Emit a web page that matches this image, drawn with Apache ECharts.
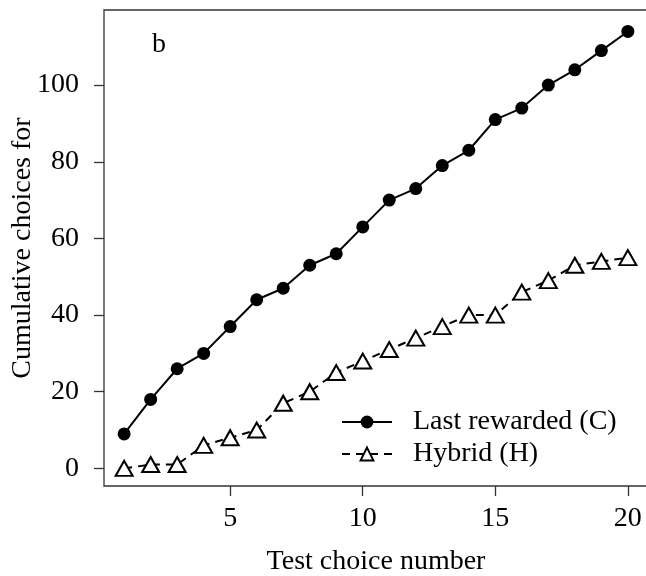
<!DOCTYPE html>
<html>
<head>
<meta charset="utf-8">
<script src="https://cdn.jsdelivr.net/npm/echarts@6/dist/echarts.min.js"></script>
<style>
  html, body { margin: 0; padding: 0; background: #fff; }
  #chart { width: 646px; height: 576px; }
</style>
</head>
<body>
<div id="chart"></div>
<script>
// Test choice numbers 1..20
const choiceNumbers = [1, 2, 3, 4, 5, 6, 7, 8, 9, 10, 11, 12, 13, 14, 15, 16, 17, 18, 19, 20];
// Cumulative choices, last rewarded option (C)
const lastRewarded = [9, 18, 26, 30, 37, 44, 47, 53, 56, 63, 70, 73, 79, 83, 91, 94, 100, 104, 109, 114];
// Cumulative choices, hybrid option (H)
const hybrid = [0, 1, 1, 6, 8, 10, 17, 20, 25, 28, 31, 34, 37, 40, 40, 46, 49, 53, 54, 55];
// Tick labels
const xTicks = [5, 10, 15, 20];
const yTicks = [0, 20, 40, 60, 80, 100];

const FONT = 'Liberation Serif';
const INK = '#000';
const FS = 28;

const chart = echarts.init(document.getElementById('chart'), null, { renderer: 'canvas' });

const pairs = (ys) => choiceNumbers.map((x, i) => [x, ys[i]]);

chart.setOption({
  animation: false,
  backgroundColor: '#fff',
  textStyle: { fontFamily: FONT, color: INK },
  grid: {
    left: 104, top: 10, width: 544, height: 476,
    outerBoundsMode: 'none',
    containLabel: false,
    show: true, borderColor: '#333', borderWidth: 1.3, backgroundColor: 'transparent'
  },
  xAxis: {
    type: 'value',
    min: 0.24, max: 20.76,
    name: 'Test choice number',
    nameLocation: 'middle',
    nameGap: 62,
    nameMoveOverlap: false,
    nameTextStyle: { fontFamily: FONT, fontSize: FS, color: INK },
    axisLine: { show: false, onZero: false },
    splitLine: { show: false },
    axisTick: { show: true, length: 10, lineStyle: { color: '#333', width: 1.3 }, customValues: xTicks },
    axisLabel: { fontFamily: FONT, fontSize: FS, color: INK, margin: 19, customValues: xTicks }
  },
  yAxis: {
    type: 'value',
    min: -4.6, max: 119.6,
    name: 'Cumulative choices for',
    nameLocation: 'middle',
    nameGap: 67,
    nameMoveOverlap: false,
    nameTextStyle: { fontFamily: FONT, fontSize: FS, color: INK },
    axisLine: { show: false, onZero: false },
    splitLine: { show: false },
    axisTick: { show: true, length: 10, lineStyle: { color: '#333', width: 1.3 }, customValues: yTicks },
    axisLabel: { fontFamily: FONT, fontSize: FS, color: INK, margin: 25, customValues: yTicks }
  },
  legend: {
    orient: 'vertical',
    left: 336, top: 403,
    itemWidth: 50, itemHeight: 16,
    itemGap: 4,
    textStyle: { fontFamily: FONT, fontSize: FS, color: INK, padding: [0, 0, 0, 16] },
    data: ['Last rewarded (C)', 'Hybrid (H)']
  },
  graphic: [{
    type: 'text',
    x: 159, y: 45,
    style: { text: 'b', fontFamily: FONT, fontSize: FS, fill: INK, align: 'center', verticalAlign: 'middle' }
  }],
  series: [
    {
      name: 'Last rewarded (C)',
      type: 'line',
      data: pairs(lastRewarded),
      symbol: 'circle',
      symbolSize: 13,
      showAllSymbol: true,
      itemStyle: { color: INK, borderColor: INK, borderWidth: 0 },
      lineStyle: { color: INK, width: 2, type: 'solid' },
      z: 3
    },
    {
      name: 'Hybrid (H)',
      type: 'line',
      data: pairs(hybrid),
      symbol: 'triangle',
      symbolSize: [17, 15],
      showAllSymbol: true,
      itemStyle: { color: '#fff', borderColor: INK, borderWidth: 2 },
      lineStyle: { color: INK, width: 2, type: [8, 6] },
      z: 2
    }
  ]
});
</script>
</body>
</html>
